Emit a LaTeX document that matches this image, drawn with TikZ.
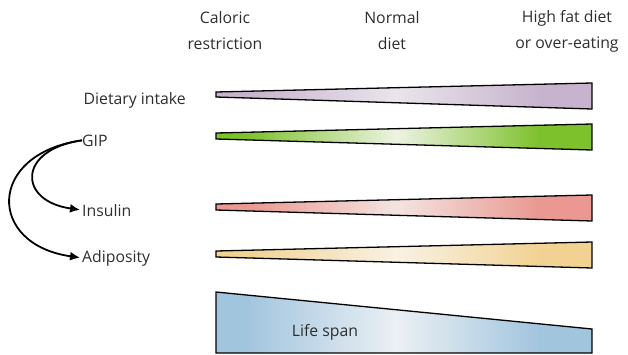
\documentclass[tikz,border=0pt]{standalone}
\usepackage{fontspec}
\setmainfont{Open Sans}
\usetikzlibrary{arrows.meta}

\definecolor{intakecol}{HTML}{C7B3CD}
\definecolor{intakemid}{HTML}{E9E5EB}
\definecolor{gipcol}{HTML}{7DC12C}
\definecolor{gipmid}{HTML}{EDF3E2}
\definecolor{insulincol}{HTML}{EA9891}
\definecolor{insulinmid}{HTML}{F3E4E2}
\definecolor{adipocol}{HTML}{F2D293}
\definecolor{adipomid}{HTML}{F8F2E3}
\definecolor{lifecol}{HTML}{A2C5DE}
\definecolor{lifemid}{HTML}{EBF0F4}
\definecolor{textgray}{HTML}{2E2E2E}

% band shading: full colour at both ends, pale in the middle
\colorlet{bandcol}{gray}
\colorlet{bandmid}{white}
\pgfdeclarehorizontalshading[bandcol,bandmid]{band}{100bp}{%
    color(0bp)=(bandcol); color(29bp)=(bandcol); color(49bp)=(bandmid);
    color(68bp)=(bandcol); color(100bp)=(bandcol)}

\begin{document}
\begin{tikzpicture}[x=1pt, y=-1pt,
    wedge/.style 2 args={draw=black, line width=1.3pt, line join=miter,
        shade, shading=band,
        /utils/exec={\colorlet{bandcol}{#1}\colorlet{bandmid}{#2}}},
    lbl/.style={inner sep=0pt, text=textgray, font=\fontsize{15.8}{26}\selectfont},
    head/.style={lbl, align=center},
    effect/.style={-{Latex[length=10pt,width=9pt]}, line width=1.8pt, shorten >=2pt}]

    % canvas
    \clip (0,0) rectangle (628,354);

    % --- Column headers ---
    \node[head] (cr) at (225,31) {Caloric\\restriction};
    \node[head] (nd) at (392,31) {Normal\\diet};
    \node[head] (hf) at (567,31) {High fat diet\\or over-eating};

    % --- Row labels ---
    \node[lbl, anchor=base east] (intake) at (186,104) {Dietary intake};
    \node[lbl, anchor=base west] (gip) at (82,146) {GIP};
    \node[lbl, anchor=base west] (insulin) at (82,216) {Insulin};
    \node[lbl, anchor=base west] (adipo) at (82,262) {Adiposity};

    % --- Wedges, thin on the left and wide on the right ---
    \path[wedge={intakecol}{intakemid}]
        (216,92) -- (592,83) -- (592,109) -- (216,97) -- cycle;
    \path[wedge={gipcol}{gipmid}]
        (216,133) -- (592,124) -- (592,150) -- (216,139) -- cycle;
    \path[wedge={insulincol}{insulinmid}]
        (216,204) -- (592,195) -- (592,221) -- (216,210) -- cycle;
    \path[wedge={adipocol}{adipomid}]
        (216,251) -- (592,242) -- (592,268) -- (216,257) -- cycle;

    % Life span gets shorter towards over-eating
    \path[wedge={lifecol}{lifemid}]
        (216,292) -- (592,329) -- (592,353) -- (216,353) -- cycle;
    \node[lbl, anchor=base] (life) at (325,336) {Life span};

    % --- GIP acts on insulin and adiposity ---
    \draw[effect] (gip.west) to[out=188, in=172, looseness=2.4] (insulin.west);
    \draw[effect] (gip.west) to[out=188, in=172, looseness=2.1] (adipo.west);
\end{tikzpicture}
\end{document}
